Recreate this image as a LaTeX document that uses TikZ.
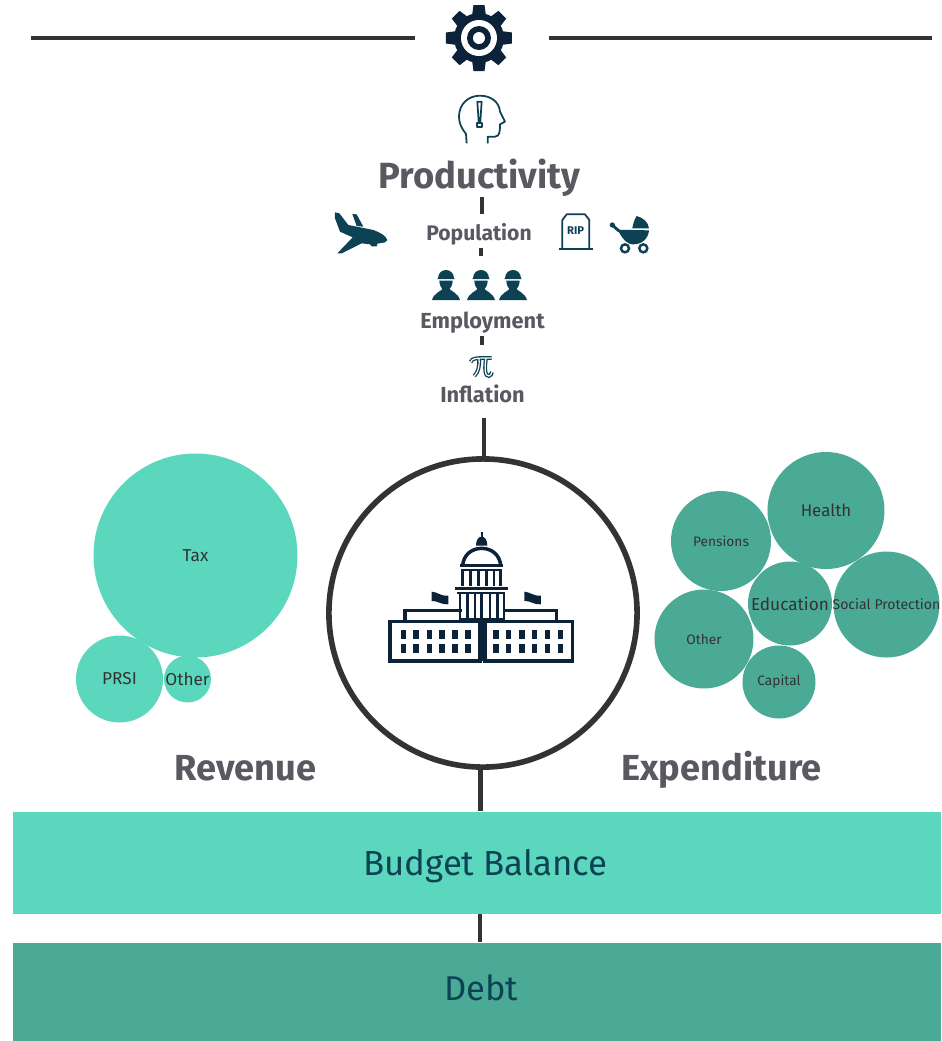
\documentclass[tikz,border=0pt]{standalone}
\usepackage{fontspec}
\setmainfont{Fira Sans}
\definecolor{mint}{HTML}{5BD7BD}
\definecolor{sea}{HTML}{4BAA96}
\definecolor{ink}{HTML}{0B2239}
\definecolor{petrol}{HTML}{0D4254}
\definecolor{slate}{HTML}{5A5860}
\definecolor{rule}{HTML}{333333}
\tikzset{
    bar/.style={draw=rule, line width=1.4pt},
    heading/.style={text=slate, font=\bfseries\fontsize{#1}{#1}\selectfont, inner sep=0pt},
    bubble/.style={circle, inner sep=0pt, text=rule},
    band/.style={inner sep=0pt, text=petrol},
    icon/.style={draw=petrol, line width=0.5pt, line join=round},
    dome/.style={draw=ink, line width=1pt}
}
\begin{document}
\begin{tikzpicture}[x=0.01cm, y=-0.01cm]
    \useasboundingbox (0,0) rectangle (941,1041);
    % top rule and gear
    \coordinate (ruleA) at (31,38);
    \coordinate (ruleB) at (415,38);
    \coordinate (ruleC) at (549,38);
    \coordinate (ruleD) at (932,38);
    \draw[bar] (ruleA) -- (ruleB);
    \draw[bar] (ruleC) -- (ruleD);
    \foreach \a in {0,45,...,315} {
        \fill[ink, rotate around={\a:(479,38)}] (472,16) -- (473.5,5) -- (484.5,5) -- (486,16) -- cycle;
    }
    \fill[ink] (479,38) circle (25);
    \fill[white] (479,38) circle (18);
    \fill[ink] (479,38) circle (12);
    \fill[white] (479,38) circle (6);

    % headings
    \node[heading=10.35] (productivity) at (479.5,178) {Productivity};
    \node[heading=6] (population) at (479,234) {Population};
    \node[heading=6.2] (employment) at (482.5,323) {Employment};
    \node[heading=6.2] (inflation) at (482.5,394) {Inflation};
    \node[heading=10.3] (revenue) at (245.5,768) {Revenue};
    \node[heading=10.3] (expenditure) at (721.5,770) {Expenditure};

    % centre circle
    \node[circle, draw=rule, line width=1.6pt, minimum size=3.08cm, inner sep=0pt] (hub) at (483,613) {};

    % bands
    \node[band, fill=mint, minimum width=9.28cm, minimum height=1.02cm] (balance) at (477,863) {};
    \node[text=petrol, font=\fontsize{9.9}{10}\selectfont, inner sep=0pt] (balancetext) at (485.5,866) {Budget Balance};
    \node[band, fill=sea, minimum width=9.28cm, minimum height=0.98cm] (debt) at (477,992) {};
    \node[text=petrol, font=\fontsize{9.8}{10}\selectfont, inner sep=0pt] (debttext) at (481,988) {Debt};

    % connectors
    \coordinate (stemA) at (482,197);
    \coordinate (stemB) at (482,214);
    \coordinate (stemC) at (481,248);
    \coordinate (stemD) at (481,256);
    \coordinate (stemE) at (482,336);
    \coordinate (stemF) at (482,345);
    \coordinate (stemG) at (484,418);
    \draw[bar] (stemA) -- (stemB);
    \draw[bar] (stemC) -- (stemD);
    \draw[bar] (stemE) -- (stemF);
    \draw[bar] (stemG) -- (stemG |- hub.north);
    \draw[bar] (hub.269.5) -- (hub.269.5 |- balance.north);
    \coordinate (stemH) at (480,914);
    \draw[bar] (stemH) -- (stemH |- debt.north);

    % revenue bubbles
    \foreach \name/\x/\y/\r/\fs/\lab in {tax/195.5/555.5/102/4.9/Tax, prsi/119.5/679/43.5/4.9/PRSI, otherrev/187.5/679/23.5/4.9/Other} {
        \node[bubble, fill=mint, minimum size=2*\r*0.01cm, font=\fontsize{\fs}{6}\selectfont] (\name) at (\x,\y) {\makebox[0pt]{\lab}};
    }
    % expenditure bubbles
    \foreach \name/\x/\y/\r/\fs/\lab in {health/826/510.5/58.5/4.8/Health, pensions/721/541/50/3.9/Pensions, education/790/603.5/42/4.9/Education, social/886.5/604.5/53/4/Social Protection, otherexp/704/639/49.5/3.9/Other, capital/779/682/36.5/3.9/Capital} {
        \node[bubble, fill=sea, minimum size=2*\r*0.01cm, font=\fontsize{\fs}{6}\selectfont] (\name) at (\x,\y) {\makebox[0pt]{\lab}};
    }

    % head, traced at 3x
    \begin{scope}[shift={(320,0)}, scale=1/3]
        \draw[icon] (440,430) -- (438,402) .. controls (425,385) and (417,370) .. (417,350)
            .. controls (417,312) and (445,287) .. (480,287)
            .. controls (515,287) and (538,308) .. (540,335) -- (555,365) -- (540,373)
            .. controls (540,390) and (540,410) .. (525,410) -- (503,410) -- (503,430);
        \draw[icon] (472,305) -- (485,305) -- (481,364) -- (476,364) -- cycle;
        \draw[icon] (472,368) rectangle (486,382);
    \end{scope}

    % plane
    \begin{scope}[shift={(330,205)}, scale=1/3]
        \fill[petrol] (15,22) -- (28,25) -- (55,60) -- (130,75) .. controls (150,82) and (168,92) .. (172,105)
            -- (165,112) -- (142,116) -- (140,124) -- (125,124) -- (120,118) -- (95,115) -- (35,145) -- (22,145)
            -- (68,97) -- (30,80) -- (15,40) -- cycle;
        \fill[petrol] (67,27) -- (80,28) -- (100,65) -- (80,63) -- cycle;
    \end{scope}

    % tombstone and pram
    \begin{scope}[shift={(555,205)}, scale=1/3]
        \draw[icon] (22,133) -- (22,45) -- (35,28) -- (90,28) -- (103,45) -- (103,133);
        \draw[icon] (12,133) -- (113,133);
        \node[text=petrol, font=\bfseries\fontsize{3.2}{4}\selectfont, inner sep=0pt] (rip) at (62,76) {RIP};
        \fill[petrol] (232,70) .. controls (234,55) and (240,40) .. (245,33) .. controls (265,38) and (280,52) .. (282,70) -- cycle;
        \fill[petrol] (187,74) -- (282,76) .. controls (280,100) and (262,118) .. (235,118) .. controls (212,118) and (200,95) .. (187,74) -- cycle;
        \draw[petrol, line width=0.8pt] (172,60) -- (192,78);
        \fill[petrol] (172,60) circle (8);
        \draw[petrol, line width=0.7pt, fill=white] (210,130) circle (12);
        \draw[petrol, line width=0.7pt, fill=white] (265,130) circle (12);
    \end{scope}

    % workers
    \foreach \x in {446,481,513} {
        \begin{scope}[shift={(\x,265)}, scale=1/3]
            \fill[petrol] (-27,42) -- (-24,40) .. controls (-24,24) and (-12,15) .. (0,15) .. controls (12,15) and (24,24) .. (24,40) -- (27,42) -- cycle;
            \fill[petrol] (-20,47) -- (20,47) .. controls (20,60) and (14,68) .. (11,72) .. controls (14,78) and (36,84) .. (42,105) -- (-42,105) .. controls (-36,84) and (-14,78) .. (-11,72) .. controls (-14,68) and (-20,60) .. (-20,47) -- cycle;
        \end{scope}
    }

    % pi
    \begin{scope}[shift={(465,350)}, scale=1/3]
        \foreach \w/\c in {1.1pt/petrol, 0.35pt/white} {
            \draw[\c, line width=\w] (17,36) .. controls (22,24) and (30,24) .. (80,24)
                (42,25) .. controls (44,50) and (40,65) .. (28,78)
                (63,25) .. controls (58,55) and (60,80) .. (72,78) .. controls (76,77) and (80,72) .. (81,66);
        }
    \end{scope}

    % capitol, traced at 3x
    \begin{scope}[shift={(380,525)}, scale=1/3]
        \draw[dome] (30,290) rectangle (300,408);
        \draw[dome] (315,290) rectangle (578,408);
        \fill[ink] (300,290) rectangle (315,408);
        \foreach \x in {62,100,140,178,217,256,340,378,418,456,495,534} {
            \foreach \y in {315,358} {
                \fill[ink] (\x,\y) rectangle ++(16,27);
            }
        }
        \draw[dome] (75,290) -- (75,257) -- (245,257);
        \draw[dome] (530,290) -- (530,257) -- (370,257);
        \draw[dome] (225,190) -- (385,190);
        \draw[dome, line width=0.6pt] (232,205) -- (375,205);
        \foreach \x in {240,262,285,305,330,352,372} {
            \draw[dome, line width=0.8pt] (\x,205) -- (\x,285);
        }
        \draw[dome] (240,285) -- (372,285);
        \foreach \x in {248,272,295,320,342,362} {
            \draw[dome, line width=0.8pt] (\x,132) -- (\x,182);
        }
        \draw[dome] (240,122) -- (370,122);
        \draw[dome, line width=0.6pt] (250,134) -- (360,134);
        \draw[dome] (248,122) .. controls (250,90) and (275,70) .. (305,70) .. controls (335,70) and (360,90) .. (362,122);
        \fill[ink] (288,62) .. controls (288,45) and (295,35) .. (305,35) .. controls (315,35) and (322,45) .. (322,62) -- cycle;
        \draw[dome, line width=0.5pt] (305,22) -- (305,35);
        \foreach \x in {155,433} {
            \fill[ink] (\x,200) .. controls (\x+15,200) and (\x+30,215) .. (\x+50,212) -- (\x+50,238) .. controls (\x+30,240) and (\x+15,226) .. (\x,228) -- cycle;
        }
    \end{scope}
\end{tikzpicture}
\end{document}
